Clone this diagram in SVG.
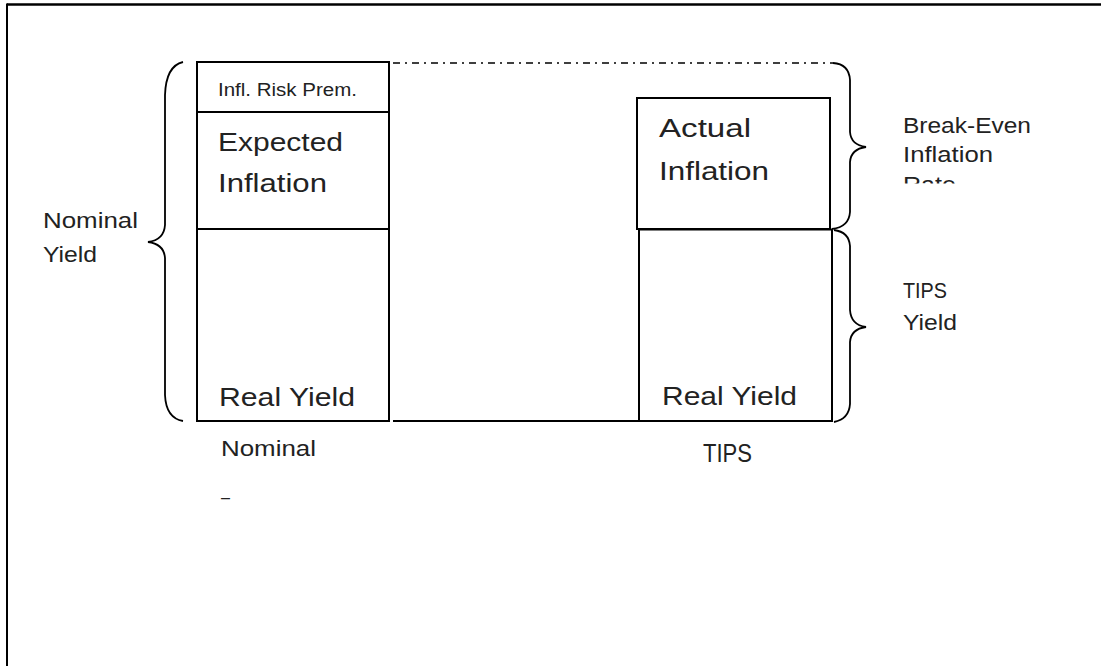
<svg xmlns="http://www.w3.org/2000/svg" width="1101" height="666" viewBox="0 0 1101 666">
<style>
.box{fill:none;stroke:#000;stroke-width:2}
.ln{fill:none;stroke:#000;stroke-width:2}
.br{fill:none;stroke:#000;stroke-width:1.8}
.t{font-family:"Liberation Sans",Arial,sans-serif;fill:#222}
.big{font-size:26px}
.mid{font-size:22px}
.sm{font-size:18px}
</style>
<defs>
<clipPath id="rateclip"><rect x="880" y="160" width="200" height="23.5"/></clipPath>
</defs>
<rect width="1101" height="666" fill="#fff"/>
<g id="frame">
<line x1="7" y1="4.5" x2="1101" y2="4.5" stroke="#000" stroke-width="2.5"/>
<line x1="7" y1="3.5" x2="7" y2="666" stroke="#000" stroke-width="2"/>
</g>
<g id="connectors">
<path d="M393 63 H833" fill="none" stroke="#000" stroke-width="1.6" stroke-dasharray="7 5 2 5"/>
<line class="ln" x1="393" y1="421" x2="639" y2="421"/>
</g>
<g id="nominal-brace">
<path class="br" d="M183 62 Q166 66 165 95 V225 Q164 240 148 242 Q164 244 165 258 V395 Q166 418 183 421"/>
</g>
<g id="breakeven-brace">
<path class="br" d="M833 63 Q849 64 850 80 V132 Q851 145 866 147 Q851 149 850 162 V212 Q849 227 832 229"/>
</g>
<g id="tips-brace">
<path class="br" d="M834 230 Q849 232 850 246 V310 Q851 325 866 327 Q851 329 850 342 V404 Q849 419 834 422"/>
</g>
<g id="infl-risk-prem">
<rect class="box" x="197" y="62" width="192" height="50"/>
<text class="t sm" x="218" y="96" textLength="139" lengthAdjust="spacingAndGlyphs">Infl. Risk Prem.</text>
</g>
<g id="expected-inflation">
<rect class="box" x="197" y="112" width="192" height="117"/>
<text class="t big" x="218" y="151" textLength="125" lengthAdjust="spacingAndGlyphs">Expected</text>
<text class="t big" x="218" y="192" textLength="109" lengthAdjust="spacingAndGlyphs">Inflation</text>
</g>
<g id="nominal-real-yield">
<rect class="box" x="197" y="229" width="192" height="192"/>
<text class="t big" x="219" y="406" textLength="136" lengthAdjust="spacingAndGlyphs">Real Yield</text>
</g>
<g id="actual-inflation">
<rect class="box" x="637" y="98" width="193" height="131"/>
<text class="t big" x="659" y="137" textLength="92" lengthAdjust="spacingAndGlyphs">Actual</text>
<text class="t big" x="659" y="180" textLength="110" lengthAdjust="spacingAndGlyphs">Inflation</text>
</g>
<g id="tips-real-yield">
<rect class="box" x="639" y="229.5" width="193" height="191.5"/>
<text class="t big" x="662" y="405" textLength="135" lengthAdjust="spacingAndGlyphs">Real Yield</text>
</g>
<g id="labels">
<text class="t mid" x="43" y="228" textLength="95" lengthAdjust="spacingAndGlyphs">Nominal</text>
<text class="t mid" x="43" y="262" textLength="54" lengthAdjust="spacingAndGlyphs">Yield</text>
<text class="t mid" x="221" y="456" textLength="95" lengthAdjust="spacingAndGlyphs">Nominal</text>
<text class="t" x="221" y="503" font-size="16" textLength="9" lengthAdjust="spacingAndGlyphs">–</text>
<text class="t big" x="703" y="462" textLength="49" lengthAdjust="spacingAndGlyphs">TIPS</text>
<text class="t mid" x="903" y="133" textLength="128" lengthAdjust="spacingAndGlyphs">Break-Even</text>
<text class="t mid" x="903" y="162" textLength="90" lengthAdjust="spacingAndGlyphs">Inflation</text>
<text class="t mid" x="903" y="192" textLength="53" lengthAdjust="spacingAndGlyphs" clip-path="url(#rateclip)">Rate</text>
<text class="t mid" x="903" y="298" textLength="44" lengthAdjust="spacingAndGlyphs">TIPS</text>
<text class="t mid" x="903" y="330" textLength="54" lengthAdjust="spacingAndGlyphs">Yield</text>
</g>
</svg>
